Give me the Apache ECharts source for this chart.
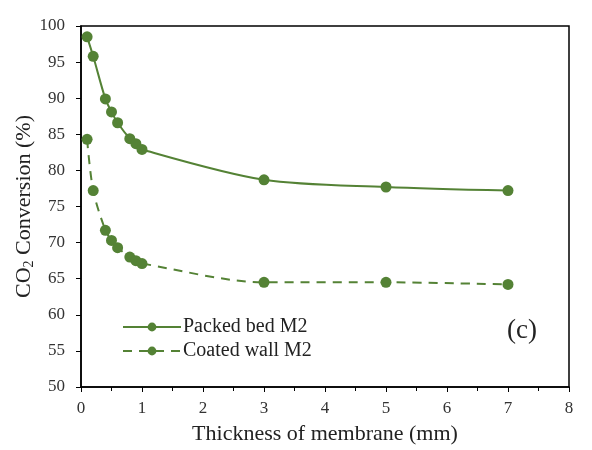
<!DOCTYPE html>
<html><head><meta charset="utf-8">
<script src="https://cdn.jsdelivr.net/npm/echarts@6/dist/echarts.min.js"></script>
<style>html,body{margin:0;padding:0;background:#fff}#c{width:592px;height:450px}</style>
</head><body><div id="c"></div>
<script>
const thickness = [0.1, 0.2, 0.4, 0.5, 0.6, 0.8, 0.9, 1.0, 3, 5, 7];
const packedBed = [98.5, 95.8, 89.9, 88.1, 86.6, 84.4, 83.7, 82.9, 78.7, 77.7, 77.2];
const coatedWall = [84.3, 77.2, 71.7, 70.3, 69.3, 68.0, 67.5, 67.1, 64.5, 64.5, 64.2];
const seriesNames = ['Packed bed M2', 'Coated wall M2'];
const panelLabel = '(c)';

const green = '#548235';
const font = 'Liberation Serif';
const chart = echarts.init(document.getElementById('c'));
chart.setOption({
  animation: false,
  backgroundColor: '#fff',
  grid: { left: 81, right: 23, top: 26, bottom: 63, show: true, borderColor: '#000', borderWidth: 1.5, outerBoundsMode: 'none', containLabel: false },
  title: { text: panelLabel, left: 502, top: 312, textStyle: { fontFamily: font, fontSize: 27, fontWeight: 'normal', color: '#222' } },
  legend: {
    orient: 'vertical', left: 117, top: 312, itemWidth: 58, itemHeight: 11, itemGap: 4,
    textStyle: { fontFamily: font, fontSize: 20, color: '#222', padding: [0, 0, 0, -3] },
    data: seriesNames
  },
  xAxis: {
    type: 'value', min: 0, max: 8, interval: 1,
    name: 'Thickness of membrane (mm)', nameLocation: 'middle', nameGap: 36, nameMoveOverlap: false,
    nameTextStyle: { fontFamily: font, fontSize: 22, color: '#222' },
    axisLine: { lineStyle: { color: '#000', width: 1.5 } },
    axisTick: { length: 5, lineStyle: { color: '#000' } },
    minorTick: { show: true, splitNumber: 2, length: 4, lineStyle: { color: '#000' } },
    axisLabel: { fontFamily: font, fontSize: 17, color: '#333', margin: 13 },
    splitLine: { show: false }
  },
  yAxis: {
    type: 'value', min: 50, max: 100, interval: 5,
    name: '{a|CO}{s|2}{a| Conversion (%)}', nameLocation: 'middle', nameGap: 45, nameMoveOverlap: false,
    nameTextStyle: { rich: { a: { fontFamily: font, fontSize: 22, color: '#222' }, s: { fontFamily: font, fontSize: 14, color: '#222', verticalAlign: 'bottom', padding: [10, 0, 0, 0] } } },
    axisLine: { show: true, lineStyle: { color: '#000', width: 1.5 } },
    axisTick: { show: true, length: 5, lineStyle: { color: '#000' } },
    axisLabel: { fontFamily: font, fontSize: 17, color: '#333', margin: 16 },
    splitLine: { show: false }
  },
  series: [
    {
      name: seriesNames[0], type: 'line', smooth: 0.3,
      data: thickness.map((x, i) => [x, packedBed[i]]),
      symbol: 'circle', symbolSize: 11,
      itemStyle: { color: green }, lineStyle: { color: green, width: 2 }
    },
    {
      name: seriesNames[1], type: 'line', smooth: 0.3,
      data: thickness.map((x, i) => [x, coatedWall[i]]),
      symbol: 'circle', symbolSize: 11,
      itemStyle: { color: green }, lineStyle: { color: green, width: 2, type: [9, 7] }
    }
  ]
});
</script></body></html>
